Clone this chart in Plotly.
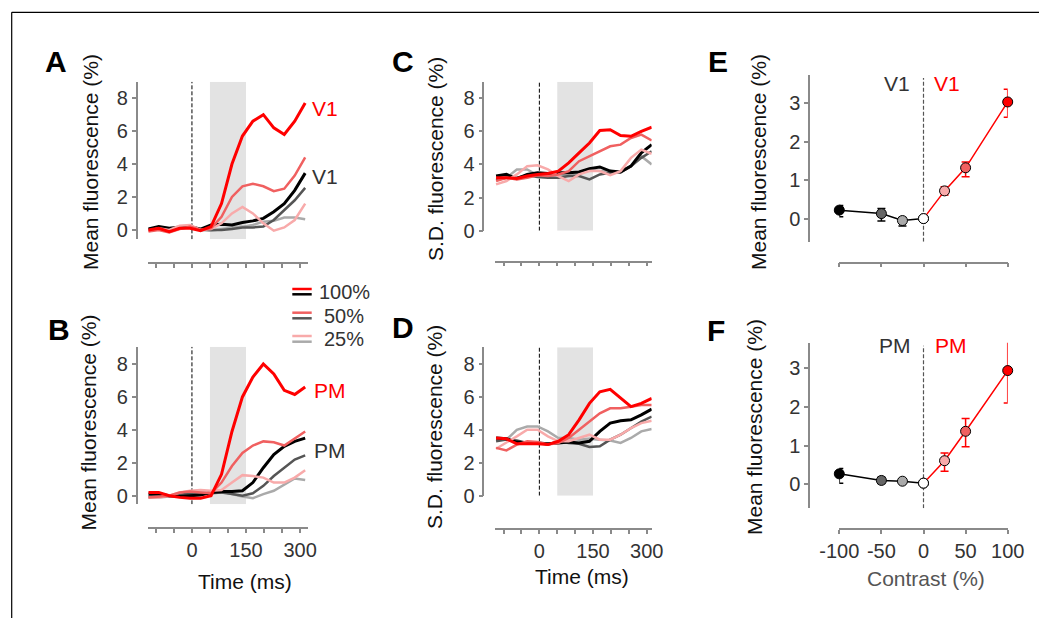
import plotly.graph_objects as go

# ---------------- data ----------------
time_ms = [-121, -92, -63, -34, -5, 24, 53, 82, 111, 140, 169, 198, 227, 256, 285, 314]
time_ticks = [-100, -50, 0, 50, 100, 150, 200, 250, 300]
time_ticktext = ['', '', '0', '', '', '150', '', '', '300']

# Panel A: V1 mean fluorescence (%)
v1_red100 = [0.0, 0.1, -0.1, 0.1, 0.1, -0.05, 0.2, 1.6, 4.0, 5.7, 6.6, 7.0, 6.2, 5.8, 6.6, 7.7]
v1_red50 = [-0.1, 0.0, -0.15, 0.05, 0.2, 0.0, 0.1, 0.8, 2.0, 2.65, 2.8, 2.65, 2.35, 2.5, 3.3, 4.4]
v1_red25 = [-0.05, 0.1, 0.0, 0.25, 0.3, 0.0, 0.05, 0.4, 1.0, 1.4, 1.0, 0.4, -0.05, 0.15, 0.6, 1.6]
v1_blk100 = [0.05, 0.2, 0.1, 0.15, 0.2, 0.05, 0.3, 0.35, 0.3, 0.45, 0.55, 0.7, 1.1, 1.6, 2.4, 3.45]
v1_blk50 = [0.0, 0.1, 0.0, 0.1, 0.15, 0.0, 0.0, 0.0, 0.05, 0.15, 0.15, 0.2, 0.6, 1.2, 1.8, 2.55]
v1_blk25 = [0.05, 0.15, 0.1, 0.2, 0.2, 0.05, -0.05, 0.05, 0.15, 0.2, 0.3, 0.5, 0.55, 0.75, 0.75, 0.65]

# Panel B: PM mean fluorescence (%)
pm_red100 = [0.2, 0.2, 0.0, -0.1, -0.15, -0.15, 0.0, 1.3, 3.9, 6.0, 7.2, 8.0, 7.4, 6.4, 6.15, 6.6]
pm_red50 = [-0.1, -0.05, 0.0, 0.2, 0.25, 0.2, 0.15, 0.8, 1.8, 2.6, 3.05, 3.3, 3.25, 3.05, 3.5, 3.9]
pm_red25 = [-0.1, -0.1, 0.0, 0.2, 0.3, 0.35, 0.3, 0.35, 0.8, 1.25, 1.2, 1.1, 0.8, 0.8, 1.1, 1.55]
pm_blk100 = [0.1, 0.1, 0.0, -0.05, 0.0, 0.05, 0.2, 0.25, 0.25, 0.3, 0.8, 1.7, 2.5, 3.0, 3.3, 3.5]
pm_blk50 = [-0.05, -0.05, 0.0, 0.1, 0.1, 0.15, 0.15, 0.2, 0.1, 0.0, 0.15, 0.6, 1.2, 1.7, 2.2, 2.45]
pm_blk25 = [-0.1, -0.1, -0.05, 0.1, 0.15, 0.2, 0.2, 0.25, 0.1, -0.05, -0.15, 0.1, 0.3, 0.7, 1.05, 0.95]

# Panel C: V1 S.D. fluorescence (%)
sd_v1_red100 = [3.2, 3.2, 3.15, 3.3, 3.4, 3.45, 3.6, 4.1, 4.7, 5.3, 6.05, 6.1, 5.75, 5.7, 6.0, 6.25]
sd_v1_red50 = [3.0, 3.2, 3.1, 3.2, 3.35, 3.3, 3.4, 3.6, 4.2, 4.5, 4.8, 5.1, 5.2, 5.6, 5.8, 5.45]
sd_v1_red25 = [2.8, 3.0, 3.4, 3.9, 3.95, 3.7, 3.3, 3.0, 3.4, 3.6, 3.6, 3.35, 3.6, 4.4, 4.9, 4.65]
sd_v1_blk100 = [3.3, 3.4, 3.15, 3.4, 3.5, 3.45, 3.5, 3.5, 3.55, 3.75, 3.85, 3.6, 3.55, 3.9, 4.7, 5.2]
sd_v1_blk50 = [3.1, 3.2, 3.2, 3.35, 3.25, 3.2, 3.2, 3.3, 3.3, 3.1, 3.4, 3.5, 3.55, 3.9, 4.4, 4.8]
sd_v1_blk25 = [3.05, 3.2, 3.7, 3.7, 3.35, 3.3, 3.4, 3.3, 3.4, 3.7, 3.6, 3.6, 3.5, 3.9, 4.5, 4.0]

# Panel D: PM S.D. fluorescence (%)
sd_pm_red100 = [3.5, 3.45, 3.15, 3.15, 3.15, 3.1, 3.3, 3.7, 4.6, 5.6, 6.3, 6.45, 5.9, 5.4, 5.6, 5.9]
sd_pm_red50 = [2.9, 2.75, 3.1, 3.3, 3.25, 3.1, 3.2, 3.5, 4.0, 4.5, 5.0, 5.3, 5.3, 5.4, 5.5, 5.5]
sd_pm_red25 = [2.85, 3.2, 3.6, 4.0, 4.0, 3.6, 3.3, 3.3, 3.5, 3.7, 3.4, 3.4, 3.7, 4.1, 4.4, 4.55]
sd_pm_blk100 = [3.5, 3.45, 3.25, 3.2, 3.2, 3.15, 3.2, 3.25, 3.2, 3.3, 3.9, 4.4, 4.55, 4.6, 4.9, 5.25]
sd_pm_blk50 = [3.3, 3.4, 3.35, 3.2, 3.2, 3.1, 3.3, 3.2, 3.15, 2.95, 3.0, 3.4, 3.7, 4.1, 4.5, 4.8]
sd_pm_blk25 = [3.4, 3.4, 4.0, 4.2, 4.2, 3.9, 3.5, 3.5, 3.4, 3.45, 3.4, 3.35, 3.2, 3.5, 3.9, 4.05]

# Panels E/F: contrast response
contrast_neg = [-100, -50, -25, 0]
contrast_pos = [0, 25, 50, 100]
contrast_ticks = [-100, -50, 0, 50, 100]

e_neg = [0.23, 0.14, -0.04, 0.01]
e_neg_plus = [0.12, 0.13, 0.08, 0.0]
e_neg_minus = [0.17, 0.19, 0.14, 0.0]
e_pos = [0.01, 0.73, 1.33, 3.04]
e_pos_plus = [0.0, 0.11, 0.15, 0.33]
e_pos_minus = [0.0, 0.11, 0.23, 0.40]

f_neg = [0.27, 0.10, 0.08, 0.03]
f_neg_plus = [0.14, 0.08, 0.06, 0.0]
f_neg_minus = [0.24, 0.08, 0.06, 0.0]
f_pos = [0.03, 0.61, 1.37, 2.94]
f_pos_plus = [0.0, 0.20, 0.33, 0.77]
f_pos_minus = [0.0, 0.27, 0.40, 0.84]

legend_labels = ['100%', '50%', '25%']

# ---------------- styling ----------------
W, H = 1047, 618
OFF = 8  # page body margin of the browser
FONT = 'Liberation Sans, Arial, sans-serif'
RED = ['#ff0000', '#f06060', '#f8aaaa']
GRY = ['#000000', '#555555', '#aaaaaa']
NEG_MK = ['#000000', '#666666', '#aaaaaa', '#ffffff']
POS_MK = ['#ffffff', '#f8aaaa', '#f06060', '#ff0000']
AXC = '#8a8a8a'
TICKC = '#333333'


def px(x):
    return (x - OFF) / W


def py(y):
    return 1 - (y - OFF) / H


fig = go.Figure()

panels = {
    'A': dict(x=(148.3, 307.7), xl=263.0, y=(81.7, 239.3), yl=136.7, xr=[-121, 321], yr=[-0.57, 9.0]),
    'B': dict(x=(148.3, 307.7), xl=528.3, y=(346.7, 504.3), yl=136.7, xr=[-121, 321], yr=[-0.52, 9.05]),
    'C': dict(x=(495.0, 651.7), xl=261.7, y=(81.7, 230.7), yl=483.3, xr=[-124, 314], yr=[0, 9.0]),
    'D': dict(x=(495.0, 651.7), xl=529.0, y=(347.3, 495.7), yl=483.3, xr=[-124, 314], yr=[0, 9.0]),
    'E': dict(x=(839.3, 1007.7), xl=262.7, y=(75.0, 241.7), yl=809.0, xr=[-100, 100], yr=[-0.59, 3.74]),
    'F': dict(x=(839.3, 1007.7), xl=529.3, y=(342.7, 508.3), yl=809.0, xr=[-100, 100], yr=[-0.62, 3.66]),
}
order = ['A', 'B', 'C', 'D', 'E', 'F']
layout_axes = {}
for i, k in enumerate(order):
    p = panels[k]
    n = '' if i == 0 else str(i + 1)
    is_time = k in 'ABCD'
    show_lab = k in 'BDF'
    if is_time:
        tv, tt = time_ticks, (time_ticktext if show_lab else [''] * len(time_ticks))
        ytv = [0, 2, 4, 6, 8]
    else:
        tv = contrast_ticks
        tt = [str(v) for v in contrast_ticks] if show_lab else [''] * len(contrast_ticks)
        ytv = [0, 1, 2, 3]
    layout_axes['xaxis' + n] = dict(
        domain=[px(p['x'][0]), px(p['x'][1])], anchor='free', position=py(p['xl']),
        range=p['xr'], showgrid=False, zeroline=False, showline=True, linecolor=AXC, linewidth=1.5,
        ticks='outside', ticklen=4, tickwidth=1.5, tickcolor=AXC, automargin=False,
        tickmode='array', tickvals=tv, ticktext=tt,
        tickfont=dict(size=20, color=TICKC, family=FONT), fixedrange=True)
    layout_axes['yaxis' + n] = dict(
        domain=[py(p['y'][1]), py(p['y'][0])], anchor='free', position=px(p['yl']),
        range=p['yr'], showgrid=False, zeroline=False, showline=True, linecolor=AXC, linewidth=1.5,
        ticks='outside', ticklen=4, tickwidth=1.5, tickcolor=AXC, automargin=False,
        tickmode='array', tickvals=ytv, ticktext=[str(v) for v in ytv],
        tickfont=dict(size=20, color=TICKC, family=FONT), fixedrange=True)
    p['xref'] = 'x' + n
    p['yref'] = 'y' + n

fig.update_layout(**layout_axes)

shapes = []
annotations = []

time_series = {
    'A': ([v1_blk25, v1_blk50, v1_blk100], [v1_red25, v1_red50, v1_red100]),
    'B': ([pm_blk25, pm_blk50, pm_blk100], [pm_red25, pm_red50, pm_red100]),
    'C': ([sd_v1_blk25, sd_v1_blk50, sd_v1_blk100], [sd_v1_red25, sd_v1_red50, sd_v1_red100]),
    'D': ([sd_pm_blk25, sd_pm_blk50, sd_pm_blk100], [sd_pm_red25, sd_pm_red50, sd_pm_red100]),
}
for k, (blks, reds) in time_series.items():
    p = panels[k]
    xr, yr = p['xref'], p['yref']
    shapes.append(dict(type='rect', xref=xr, yref=yr, x0=50, x1=150, y0=p['yr'][0], y1=p['yr'][1],
                       fillcolor='#e3e3e3', line=dict(width=0), layer='below'))
    shapes.append(dict(type='line', xref=xr, yref=yr, x0=0, x1=0, y0=p['yr'][0], y1=p['yr'][1],
                       line=dict(color='#000000', width=1, dash='4px,2px'), layer='below'))
    for j, s in enumerate(blks):
        c = GRY[2 - j]
        fig.add_trace(go.Scatter(x=time_ms, y=s, mode='lines', xaxis=xr, yaxis=yr,
                                 line=dict(color=c, width=3 if j == 2 else 2.5), showlegend=False))
    for j, s in enumerate(reds):
        c = RED[2 - j]
        fig.add_trace(go.Scatter(x=time_ms, y=s, mode='lines', xaxis=xr, yaxis=yr,
                                 line=dict(color=c, width=3 if j == 2 else 2.5), showlegend=False))

for k, neg, negp, negm, pos, posp, posm in [
        ('E', e_neg, e_neg_plus, e_neg_minus, e_pos, e_pos_plus, e_pos_minus),
        ('F', f_neg, f_neg_plus, f_neg_minus, f_pos, f_pos_plus, f_pos_minus)]:
    p = panels[k]
    xr, yr = p['xref'], p['yref']
    shapes.append(dict(type='line', xref=xr, yref=yr, x0=0, x1=0, y0=p['yr'][0], y1=p['yr'][1] - 0.08,
                       line=dict(color='#555555', width=1.2, dash='4px,2px'), layer='below'))
    fig.add_trace(go.Scatter(x=contrast_neg, y=neg, mode='lines+markers', xaxis=xr, yaxis=yr,
                             line=dict(color='#000000', width=1.5),
                             marker=dict(size=10, color=NEG_MK, line=dict(color='#000000', width=1)),
                             error_y=dict(type='data', array=negp, arrayminus=negm, color='#000000',
                                          thickness=1.5, width=4),
                             cliponaxis=False, showlegend=False))
    fig.add_trace(go.Scatter(x=contrast_pos, y=pos, mode='lines+markers', xaxis=xr, yaxis=yr,
                             line=dict(color='#ff0000', width=1.5),
                             marker=dict(size=10, color=POS_MK, line=dict(color='#000000', width=1)),
                             error_y=dict(type='data', array=posp, arrayminus=posm, color='#ff0000',
                                          thickness=1.5, width=4),
                             cliponaxis=False, showlegend=False))


def text(x, y, s, size=20, color='#333333', bold=False, angle=0, xanchor='center'):
    annotations.append(dict(x=px(x), y=py(y), xref='paper', yref='paper', text=('<b>%s</b>' % s) if bold else s,
                            showarrow=False, xanchor=xanchor, yanchor='middle', textangle=angle,
                            font=dict(size=size, color=color, family=FONT)))


for lab, (x, y) in {'A': (56, 61), 'B': (59, 329), 'C': (403, 61.7), 'D': (403, 327),
                    'E': (717.5, 62), 'F': (716, 331)}.items():
    text(x, y, lab, size=30, color='#000000', bold=True)

text(90, 162, 'Mean fluorescence (%)', size=21, angle=-90, color='#111111')
text(87.5, 423, 'Mean fluorescence (%)', size=21, angle=-90, color='#111111')
text(435, 159, 'S.D. fluorescence (%)', size=21, angle=-90, color='#111111')
text(434, 427, 'S.D. fluorescence (%)', size=21, angle=-90, color='#111111')
text(758, 162, 'Mean fluorescence (%)', size=21, angle=-90, color='#111111')
text(754, 427, 'Mean fluorescence (%)', size=21, angle=-90, color='#111111')
text(245, 581.7, 'Time (ms)', size=21, color='#111111')
text(581.7, 576.7, 'Time (ms)', size=21, color='#111111')
text(925.7, 578.3, 'Contrast (%)', color='#555555', size=21)

text(325, 108.3, 'V1', size=21, color='#ff0000')
text(325, 176.7, 'V1', size=21, color='#333333')
text(330, 390, 'PM', size=21, color='#ff0000')
text(330, 450, 'PM', size=21, color='#333333')
text(896.7, 83.3, 'V1', size=21, color='#333333')
text(946.7, 83.3, 'V1', size=21, color='#ff0000')
text(895, 345, 'PM', size=21, color='#333333')
text(951, 345, 'PM', size=21, color='#ff0000')

leg_y = [(289, 294.3), (312.7, 318.3), (336, 341.7)]
for j, lab in enumerate(legend_labels):
    yr_, yb_ = leg_y[j]
    shapes.append(dict(type='line', xref='paper', yref='paper', x0=px(292.3), x1=px(311.7),
                       y0=py(yr_), y1=py(yr_), line=dict(color=RED[j], width=2.5)))
    shapes.append(dict(type='line', xref='paper', yref='paper', x0=px(292.3), x1=px(311.7),
                       y0=py(yb_), y1=py(yb_), line=dict(color=GRY[j], width=2.5)))
    text(344, (yr_ + yb_) / 2, lab, size=20, color='#333333')

shapes.append(dict(type='line', xref='paper', yref='paper', x0=px(11.7), x1=1, y0=py(12.3), y1=py(12.3),
                   line=dict(color='#000000', width=1.2)))
shapes.append(dict(type='line', xref='paper', yref='paper', x0=px(11.7), x1=px(11.7), y0=py(12.3), y1=0,
                   line=dict(color='#000000', width=1.2)))

fig.update_layout(width=W, height=H, margin=dict(l=0, r=0, t=0, b=0, autoexpand=False), autosize=False,
                  template='none',
                  paper_bgcolor='white', plot_bgcolor='rgba(0,0,0,0)',
                  shapes=shapes, annotations=annotations, showlegend=False,
                  font=dict(family=FONT))

fig.write_html('out.html', config={'displayModeBar': False})
